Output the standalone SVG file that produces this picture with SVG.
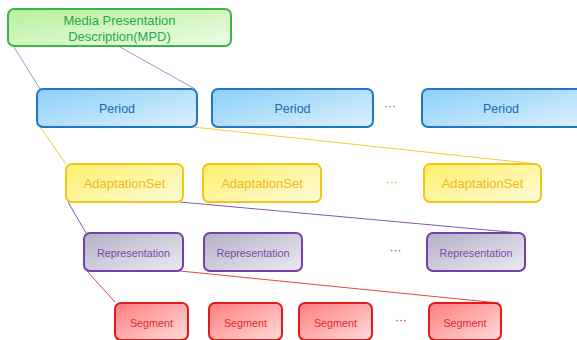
<svg xmlns="http://www.w3.org/2000/svg" width="577" height="340" viewBox="0 0 577 340">
<defs>
<linearGradient id="gG" x1="0" y1="0" x2="1" y2="1"><stop offset="0" stop-color="#b6f09a"/><stop offset="1" stop-color="#effde6"/></linearGradient>
<linearGradient id="gB" x1="0" y1="0" x2="1" y2="1"><stop offset="0" stop-color="#8ccff8"/><stop offset="1" stop-color="#dcf0fd"/></linearGradient>
<linearGradient id="gY" x1="0" y1="0" x2="1" y2="1"><stop offset="0" stop-color="#fff06a"/><stop offset="1" stop-color="#fffbd8"/></linearGradient>
<linearGradient id="gP" x1="0" y1="0" x2="1" y2="1"><stop offset="0" stop-color="#b4b0c6"/><stop offset="1" stop-color="#eceaf2"/></linearGradient>
<linearGradient id="gR" x1="0" y1="0" x2="1" y2="1"><stop offset="0" stop-color="#ff7c7c"/><stop offset="1" stop-color="#ffdcdc"/></linearGradient>
</defs>
<style>
text{font-family:"Liberation Sans",Arial,sans-serif;text-anchor:middle;dominant-baseline:central}
rect{stroke-width:2}
.mpd rect{fill:url(#gG);stroke:#39b54a}.mpd text{fill:#2aa84a;font-size:13px}
.per rect{fill:url(#gB);stroke:#1f76c4}.per text{fill:#1e6bb0;font-size:12.5px}
.ada rect{fill:url(#gY);stroke:#f6c418}.ada text{fill:#f1b81e;font-size:13px}
.rep rect{fill:url(#gP);stroke:#7640a6}.rep text{fill:#7a4aa6;font-size:10.8px}
.seg rect{fill:url(#gR);stroke:#e01a1a}.seg text{fill:#e02c2c;font-size:10.8px}
.dots{font-size:12px}
.c line{stroke-width:1}
</style>
<g id="connectors" class="c">
<line x1="14" y1="47" x2="40" y2="89" stroke="#8aa0cc"/>
<line x1="120" y1="47" x2="195" y2="89" stroke="#8aa0cc"/>
<line x1="40" y1="127" x2="66" y2="164" stroke="#f6cc3a"/>
<line x1="193" y1="127" x2="537" y2="164" stroke="#f6cc3a"/>
<line x1="68" y1="202" x2="86" y2="233" stroke="#8856b4"/>
<line x1="180" y1="202" x2="520" y2="233" stroke="#8856b4"/>
<line x1="87" y1="271" x2="115" y2="302" stroke="#e24848"/>
<line x1="180" y1="271" x2="499" y2="303" stroke="#e24848"/>
</g>
<g id="mpd" class="mpd"><rect x="8" y="9" width="223" height="37" rx="6"/><text x="119.5" y="20.5">Media Presentation</text><text x="119.5" y="36">Description(MPD)</text></g>
<g id="period1" class="per"><rect x="37" y="89" width="160" height="38" rx="6"/><text x="117" y="108.5">Period</text></g>
<g id="period2" class="per"><rect x="212" y="89" width="161" height="38" rx="6"/><text x="292.5" y="108.5">Period</text></g>
<g id="period3" class="per"><rect x="422" y="89" width="160" height="38" rx="6"/><text x="501" y="108.5">Period</text></g>
<text class="dots" x="390" y="106" fill="#1f76c4">···</text>
<g id="adapt1" class="ada"><rect x="66" y="164" width="117" height="38" rx="6"/><text x="124.5" y="183.5">AdaptationSet</text></g>
<g id="adapt2" class="ada"><rect x="203" y="164" width="118" height="38" rx="6"/><text x="262" y="183.5">AdaptationSet</text></g>
<g id="adapt3" class="ada"><rect x="424" y="164" width="117" height="38" rx="6"/><text x="482.5" y="183.5">AdaptationSet</text></g>
<text class="dots" x="392" y="182" fill="#f1b81e">···</text>
<g id="rep1" class="rep"><rect x="84" y="233" width="99" height="38" rx="6"/><text x="133.5" y="252.5">Representation</text></g>
<g id="rep2" class="rep"><rect x="204" y="233" width="98" height="38" rx="6"/><text x="253" y="252.5">Representation</text></g>
<g id="rep3" class="rep"><rect x="427" y="233" width="98" height="38" rx="6"/><text x="476" y="252.5">Representation</text></g>
<text class="dots" x="395.5" y="250" fill="#7640a6">···</text>
<g id="seg1" class="seg"><rect x="115" y="303" width="73" height="37" rx="6"/><text x="151.5" y="322.5">Segment</text></g>
<g id="seg2" class="seg"><rect x="209" y="303" width="73" height="37" rx="6"/><text x="245.5" y="322.5">Segment</text></g>
<g id="seg3" class="seg"><rect x="299" y="303" width="73" height="37" rx="6"/><text x="335.5" y="322.5">Segment</text></g>
<g id="seg4" class="seg"><rect x="429" y="303" width="72" height="37" rx="6"/><text x="465" y="322.5">Segment</text></g>
<text class="dots" x="401" y="320" fill="#e01a1a">···</text>
</svg>
